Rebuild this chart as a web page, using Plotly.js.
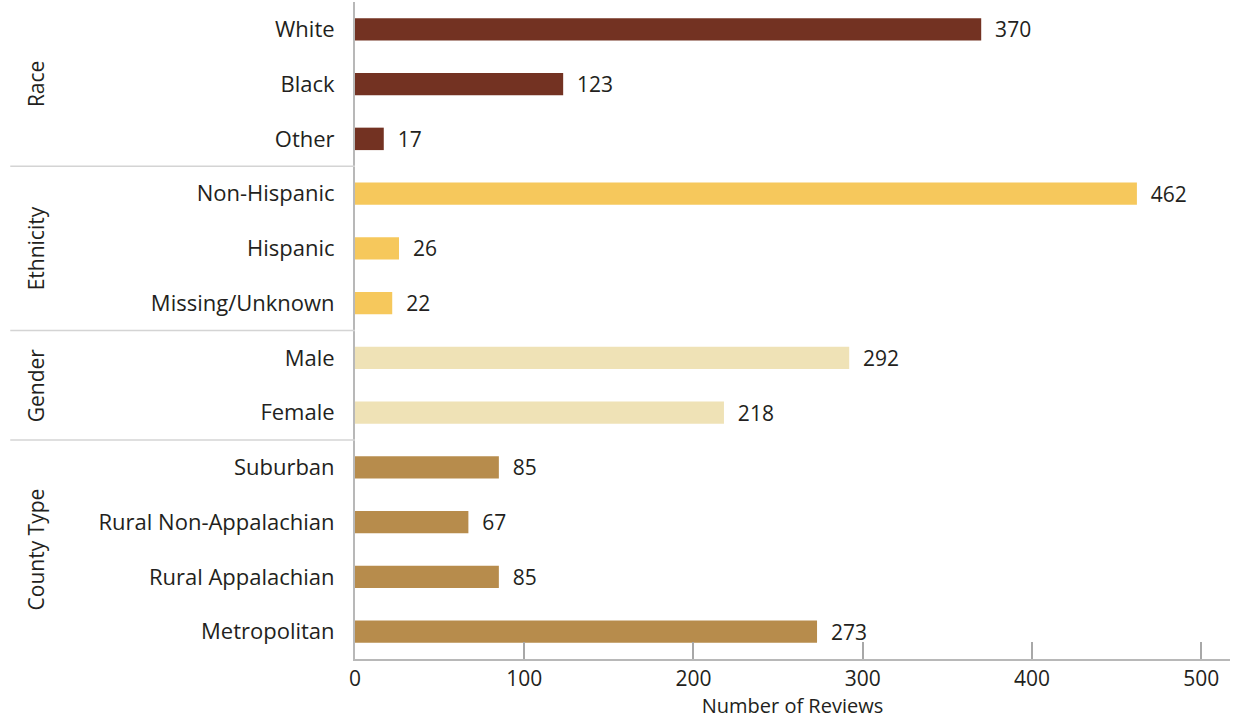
<!DOCTYPE html>
<html>
<head>
<meta charset="utf-8">
<script src="https://cdn.plot.ly/plotly-3.0.1.min.js"></script>
<style>
  html, body { margin: 0; padding: 0; background: #ffffff; }
  #chart { width: 1235px; height: 721px; }
</style>
</head>
<body>
<div id="chart"></div>
<script>
// Review counts by demographic group
const raceLabels = ["White", "Black", "Other"];
const raceValues = [370, 123, 17];

const ethnicityLabels = ["Non-Hispanic", "Hispanic", "Missing/Unknown"];
const ethnicityValues = [462, 26, 22];

const genderLabels = ["Male", "Female"];
const genderValues = [292, 218];

const countyLabels = ["Suburban", "Rural Non-Appalachian", "Rural Appalachian", "Metropolitan"];
const countyValues = [85, 67, 85, 273];

const groupNames = ["Race", "Ethnicity", "Gender", "County Type"];
const xTicks = [0, 100, 200, 300, 400, 500];

const groups = [
  { name: groupNames[0], labels: raceLabels, values: raceValues, color: "#733222" },
  { name: groupNames[1], labels: ethnicityLabels, values: ethnicityValues, color: "#f6c85c" },
  { name: groupNames[2], labels: genderLabels, values: genderValues, color: "#efe2b6" },
  { name: groupNames[3], labels: countyLabels, values: countyValues, color: "#b78c4c" }
];

const FONT = "Open Sans, Liberation Sans, sans-serif";
const TEXT = "#231f20";
const SIZE = 21;

const allLabels = [].concat(...groups.map(g => g.labels));

const traces = groups.map(g => ({
  type: "bar",
  orientation: "h",
  y: g.labels,
  x: g.values,
  width: 0.41,
  marker: { color: g.color },
  text: g.values.map(v => String(v)),
  texttemplate: "  %{x}",
  textposition: "outside",
  constraintext: "none",
  cliponaxis: false,
  textfont: { family: FONT, size: SIZE, color: TEXT },
  hoverinfo: "x+y",
  showlegend: false
}));

// Group labels on the left, with separators between groups
const shapes = [];
const annotations = [];
let start = 0;
groups.forEach((g, i) => {
  const n = g.labels.length;
  const mid = start + (n - 1) / 2;
  annotations.push({
    xref: "paper", yref: "y",
    x: -0.3646, y: mid,
    text: g.name,
    showarrow: false,
    textangle: -90,
    xanchor: "center", yanchor: "middle",
    font: { family: FONT, size: SIZE, color: TEXT }
  });
  if (i < groups.length - 1) {
    shapes.push({
      type: "line", xref: "paper", yref: "y",
      x0: -0.394, x1: 0, y0: start + n - 0.5, y1: start + n - 0.5,
      line: { color: "#d4d4d4", width: 1.5 }
    });
  }
  start += n;
});

const layout = {
  width: 1235,
  height: 721,
  margin: { l: 355, r: 5, t: 2, b: 62 },
  paper_bgcolor: "#ffffff",
  plot_bgcolor: "#ffffff",
  barmode: "overlay",
  font: { family: FONT, color: TEXT },
  xaxis: {
    range: [0, 517],
    tickvals: xTicks,
    ticktext: xTicks.map(String),
    ticks: "inside",
    ticklen: 17,
    tickwidth: 2,
    tickcolor: "#a8a8a8",
    showline: true,
    linecolor: "#b8b8b8",
    linewidth: 2,
    showgrid: false,
    zeroline: false,
    ticklabelstandoff: 0,
    tickfont: { family: FONT, size: SIZE, color: TEXT },
    title: { text: "Number of Reviews", font: { family: FONT, size: 20, color: TEXT }, standoff: 3 }
  },
  yaxis: {
    type: "category",
    categoryorder: "array",
    categoryarray: allLabels,
    autorange: "reversed",
    ticks: "",
    ticklabelstandoff: 14,
    showline: true,
    linecolor: "#b8b8b8",
    linewidth: 2,
    showgrid: false,
    zeroline: false,
    tickfont: { family: FONT, size: 22, color: TEXT }
  },
  shapes: shapes,
  annotations: annotations
};

Plotly.newPlot("chart", traces, layout, { displayModeBar: false, staticPlot: true });
</script>
</body>
</html>
